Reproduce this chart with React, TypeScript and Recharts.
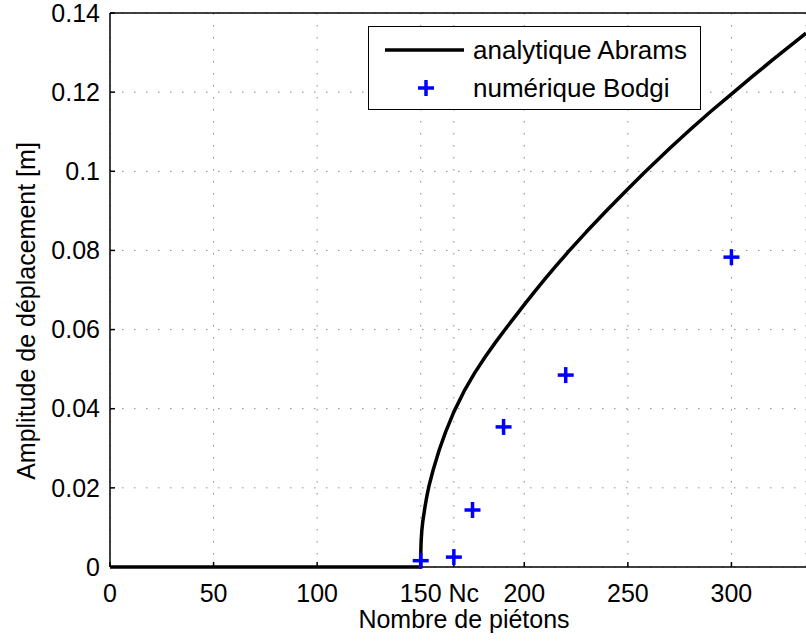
import React from 'react';
import { ComposedChart, Line, Scatter, XAxis, YAxis, CartesianGrid, Legend } from 'recharts';

const curveX = [0, 150, 150, 150.05, 150.2, 150.5, 151, 152, 153, 154, 156, 159, 162, 166, 171, 176, 181, 186, 191, 196, 200, 205, 210, 215, 221.5, 230, 240, 250, 258, 270, 280, 290, 300, 310, 320, 330, 336];
const curveY = [0, 0, 0.0025, 0.004, 0.0065, 0.009, 0.0115, 0.015, 0.018, 0.0205, 0.0245, 0.0297, 0.0341, 0.0392, 0.0445, 0.0490, 0.0530, 0.0567, 0.0602, 0.0636, 0.0663, 0.0696, 0.0728, 0.0759, 0.0798, 0.0847, 0.0902, 0.0955, 0.0997, 0.1057, 0.1105, 0.1151, 0.1195, 0.1239, 0.1282, 0.1324, 0.1349];

const pointX = [150, 166, 175, 190, 220, 300];
const pointY = [0.0016, 0.0025, 0.0144, 0.0354, 0.0485, 0.0783];

const xTicks = [0, 50, 100, 150, 166, 200, 250, 300];
const xTickLabels = ['0', '50', '100', '150', 'Nc', '200', '250', '300'];
const yTicks = [0, 0.02, 0.04, 0.06, 0.08, 0.1, 0.12, 0.14];
const yTickLabels = ['0', '0.02', '0.04', '0.06', '0.08', '0.1', '0.12', '0.14'];

const seriesNames = ['analytique Abrams', 'numérique Bodgi'];
const xTitle = 'Nombre de piétons';
const yTitle = 'Amplitude de déplacement [m]';

const curveData = curveX.map((x, i) => ({ x, y: curveY[i] }));
const pointData = pointX.map((x, i) => ({ x, y: pointY[i] }));

const FONT = '"Liberation Sans", Arial, Helvetica, sans-serif';
const FS = 25;

const findIdx = (arr: number[], v: number) => arr.findIndex((a) => Math.abs(a - v) < 1e-9);

const BottomTick = (props: any) => {
  const { x, y, payload } = props;
  const i = findIdx(xTicks, payload.value);
  const label = i >= 0 ? xTickLabels[i] : String(payload.value);
  const dx = label === 'Nc' ? 10 : 0;
  return (
    <text x={x + dx} y={y} dy="0.71em" textAnchor="middle" fill="#000" fontSize={FS} fontFamily={FONT}>
      {label}
    </text>
  );
};

const LeftTick = (props: any) => {
  const { x, y, payload } = props;
  const i = findIdx(yTicks, payload.value);
  const label = i >= 0 ? yTickLabels[i] : String(payload.value);
  return (
    <text x={x} y={y} dy="0.35em" textAnchor="end" fill="#000" fontSize={FS} fontFamily={FONT}>
      {label}
    </text>
  );
};

const NoTick = () => <g />;

const PlusShape = (props: any) => {
  const { cx, cy } = props;
  const h = 8;
  return (
    <g>
      <line x1={cx - h} y1={cy} x2={cx + h} y2={cy} stroke="#0000ff" strokeWidth={3.5} />
      <line x1={cx} y1={cy - h} x2={cx} y2={cy + h} stroke="#0000ff" strokeWidth={3.5} />
    </g>
  );
};

const LegendBox = () => (
  <div
    style={{
      position: 'relative',
      width: 333,
      height: 84,
      boxSizing: 'border-box',
      border: '1px solid #000',
      background: '#fff',
      fontFamily: FONT,
      fontSize: 26,
      color: '#000',
    }}
  >
    <svg width={100} height={84} style={{ position: 'absolute', left: 0, top: 0 }}>
      <line x1={16} y1={23} x2={95} y2={23} stroke="#000" strokeWidth={3.5} />
      <line x1={49} y1={61} x2={65} y2={61} stroke="#0000ff" strokeWidth={3.5} />
      <line x1={57} y1={53} x2={57} y2={69} stroke="#0000ff" strokeWidth={3.5} />
    </svg>
    <div style={{ position: 'absolute', left: 104, top: 23, transform: 'translateY(-50%)', whiteSpace: 'nowrap', lineHeight: 1 }}>
      {seriesNames[0]}
    </div>
    <div style={{ position: 'absolute', left: 104, top: 61, transform: 'translateY(-50%)', whiteSpace: 'nowrap', lineHeight: 1 }}>
      {seriesNames[1]}
    </div>
  </div>
);

const XTitle = (props: any) => {
  const vb = props.viewBox || { x: 110, y: 567, width: 696, height: 75 };
  return (
    <text x={vb.x + vb.width / 2 + 6} y={vb.y + 61} textAnchor="middle" fill="#000" fontSize={FS} fontFamily={FONT}>
      {xTitle}
    </text>
  );
};

const YTitle = (props: any) => {
  const vb = props.viewBox || { x: 0, y: 13, width: 110, height: 554 };
  const cx = vb.x + 35;
  const cy = vb.y + vb.height / 2 + 21;
  return (
    <text x={cx} y={cy} transform={`rotate(-90 ${cx} ${cy})`} textAnchor="middle" fill="#000" fontSize={FS} fontFamily={FONT}>
      {yTitle}
    </text>
  );
};

export default function App() {
  return (
    <div style={{ position: 'absolute', left: 0, top: 0, width: 806, height: 642, background: '#fff' }}>
      <ComposedChart width={806} height={642} margin={{ top: 0, right: 0, bottom: 0, left: 0 }}>
        <CartesianGrid stroke="#8a8a8a" strokeWidth={1} strokeDasharray="1.5 10.5" />
        <XAxis
          dataKey="x"
          type="number"
          domain={[0, 336]}
          ticks={xTicks}
          interval={0}
          height={75}
          tickSize={-5}
          tickMargin={22}
          axisLine={{ stroke: '#000', strokeWidth: 1.5 }}
          tickLine={{ stroke: '#000', strokeWidth: 1.5 }}
          tick={<BottomTick />}
          label={<XTitle />}
        />
        <XAxis
          xAxisId="top"
          orientation="top"
          type="number"
          domain={[0, 336]}
          ticks={xTicks}
          interval={0}
          height={13}
          tickSize={-5}
          axisLine={{ stroke: '#000', strokeWidth: 1.5 }}
          tickLine={{ stroke: '#000', strokeWidth: 1.5 }}
          tick={<NoTick />}
        />
        <YAxis
          type="number"
          domain={[0, 0.14]}
          ticks={yTicks}
          interval={0}
          width={110}
          tickSize={-5}
          tickMargin={15}
          axisLine={{ stroke: '#000', strokeWidth: 1.5 }}
          tickLine={{ stroke: '#000', strokeWidth: 1.5 }}
          tick={<LeftTick />}
          label={<YTitle />}
        />
        <Line
          data={curveData}
          dataKey="y"
          type="linear"
          stroke="#000"
          strokeWidth={3.5}
          strokeLinejoin="round"
          dot={false}
          activeDot={false}
          isAnimationActive={false}
          name={seriesNames[0]}
        />
        <Scatter
          data={pointData}
          dataKey="y"
          fill="#0000ff"
          shape={<PlusShape />}
          isAnimationActive={false}
          name={seriesNames[1]}
        />
        <Legend
          layout="vertical"
          align="center"
          verticalAlign="middle"
          content={<LegendBox />}
          wrapperStyle={{ left: 368, top: 26, width: 333, height: 84 }}
        />
      </ComposedChart>
    </div>
  );
}
